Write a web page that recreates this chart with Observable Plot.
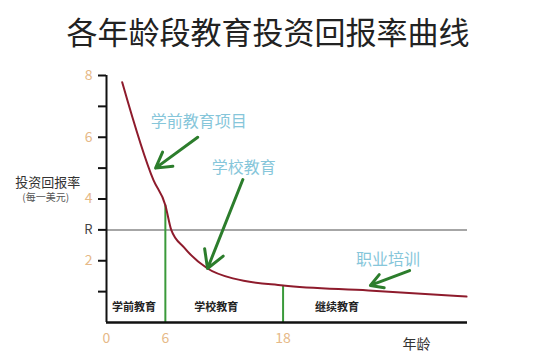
<!DOCTYPE html>
<html>
<head>
<meta charset="utf-8">
<script src="https://cdn.jsdelivr.net/npm/d3@7"></script>
<script src="https://cdn.jsdelivr.net/npm/@observablehq/plot@0.6"></script>
<style>
  body { margin: 0; background: #fff; font-family: "Noto Sans CJK SC", sans-serif; }
  #title { height: 58px; line-height: 62px; font-size: 31px; color: #222; text-align: center; width: 536px; letter-spacing: 0px; }
</style>
</head>
<body>
<div id="title">各年龄段教育投资回报率曲线</div>
<div id="chart"></div>
<script>
const title = "各年龄段教育投资回报率曲线";
const ages    = [1.6, 4.8, 6.0, 6.6, 7.9, 10.3, 13.0, 18.0, 26.7, 36.7];
const returns = [7.78, 4.6, 3.8, 3.0, 2.43, 1.75, 1.42, 1.2, 1.04, 0.84];
const yTickValues = [1, 2, 3, 4, 5, 6, 7, 8];
const yTickLabels = [2, 4, 6, 8];
const rValue = 3;
const rLabel = "R";
const xTickLabels = [0, 6, 18];
const boundaries = [6, 18];
const boundaryTops = [3.8, 1.2];
const stageNames = ["学前教育", "学校教育", "继续教育"];
const stageX = [2.8, 11.2, 23.5];
const stageY = 0.5;
const notes = ["学前教育项目", "学校教育", "职业培训"];
const noteX = [9.4, 14.0, 28.7];
const noteY = [6.5, 5.0, 2.04];
const arrowFromX = [9.3, 13.9, 30.9];
const arrowFromY = [6.0, 4.63, 1.68];
const arrowToX = [5.0, 10.3, 26.9];
const arrowToY = [5.0, 1.75, 1.2];
const yLabel = "投资回报率";
const yUnit = "(每一美元)";
const xLabel = "年龄";

const curve = ages.map((a, i) => ({age: a, r: returns[i]}));
const bounds = boundaries.map((b, i) => ({x: b, top: boundaryTops[i]}));
const stages = stageNames.map((s, i) => ({name: s, x: stageX[i], y: stageY}));
const noteData = notes.map((n, i) => ({t: n, x: noteX[i], y: noteY[i]}));
const arrows = notes.map((n, i) => ({x1: arrowFromX[i], y1: arrowFromY[i], x2: arrowToX[i], y2: arrowToY[i]}));

const font = "Noto Sans CJK SC";
const plot = Plot.plot({
  width: 550,
  height: 298,
  marginTop: 17,
  marginBottom: 34,
  marginLeft: 106,
  marginRight: 83,
  style: {fontFamily: font, background: "#fff"},
  x: {domain: [0, 36.8], axis: null},
  y: {domain: [0, 8], axis: null},
  marks: [
    Plot.ruleY([rValue], {x1: 0, x2: 36.8, stroke: "#888", strokeWidth: 1.5}),
    Plot.ruleX(bounds, {x: "x", y1: 0, y2: "top", stroke: "#3a9a3a", strokeWidth: 2}),
    Plot.line(curve, {x: "age", y: "r", curve: "monotone-x", stroke: "#8e1b2c", strokeWidth: 2}),
    Plot.ruleX([0], {y1: 0, y2: 8, stroke: "#111", strokeWidth: 2}),
    Plot.ruleY([0], {x1: 0, x2: 36.8, stroke: "#111", strokeWidth: 2.5}),
    Plot.axisY(yTickValues, {anchor: "left", tickSize: 8, tickFormat: () => "", stroke: "#111", strokeWidth: 2}),
    Plot.axisY(yTickLabels, {anchor: "left", tickSize: 0, tickPadding: 14, fontSize: 14, fill: "#e6b987", textStroke: "none"}),
    Plot.axisY([rValue], {anchor: "left", tickSize: 0, tickPadding: 14, fontSize: 13, fill: "#444", tickFormat: () => rLabel}),
    Plot.axisX(xTickLabels, {anchor: "bottom", tickSize: 0, tickPadding: 11, fontSize: 14, fill: "#e6b987"}),
    Plot.text(stages, {x: "x", y: "y", text: "name", fontSize: 11, fontWeight: "bold", fill: "#222"}),
    Plot.text(noteData, {x: "x", y: "y", text: "t", fontSize: 16, fill: "#86c6da"}),
    Plot.arrow(arrows, {x1: "x1", y1: "y1", x2: "x2", y2: "y2", stroke: "#2c7d2c", strokeWidth: 3, headLength: 10}),
    Plot.text([xLabel], {x: 31.6, y: -0.7, text: d => d, fontSize: 14, fill: "#333"}),
    Plot.text([yLabel], {x: -6.0, y: 4.53, text: d => d, fontSize: 13, fill: "#333"}),
    Plot.text([yUnit], {x: -6.2, y: 4.05, text: d => d, fontSize: 10, fill: "#555"})
  ]
});
document.getElementById("chart").appendChild(plot);
</script>
</body>
</html>
